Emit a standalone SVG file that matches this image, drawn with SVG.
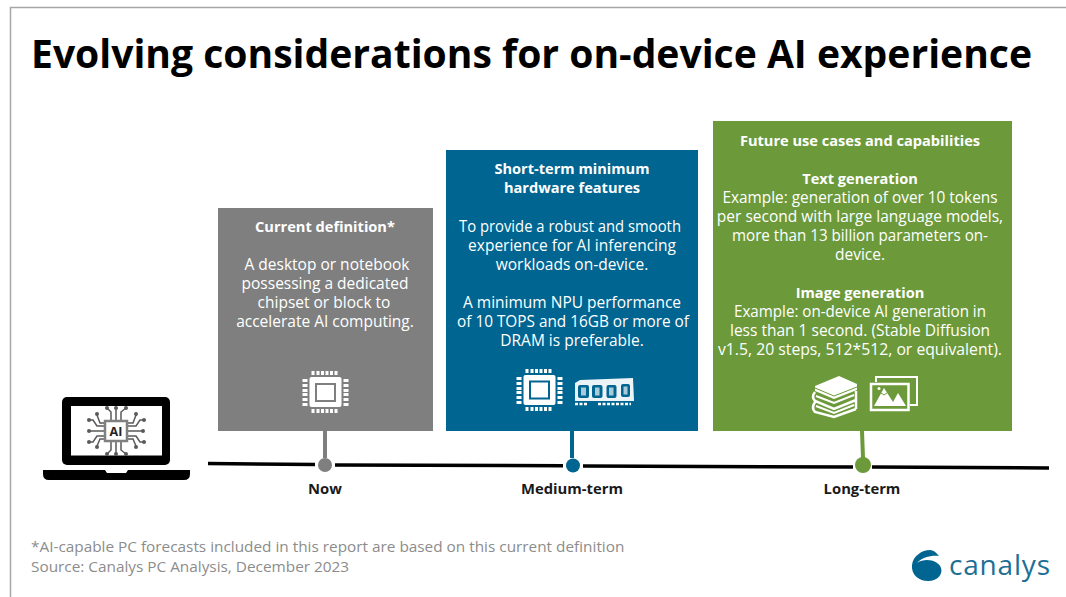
<svg xmlns="http://www.w3.org/2000/svg" width="1066" height="597" viewBox="0 0 1066 597">
<style>
text{font-family:"Open Sans","Noto Sans","Liberation Sans",sans-serif}
.w{fill:#fff;font-size:15.500px;text-anchor:middle}
.b{font-weight:700;font-size:14.600px}
.lab{fill:#1a1a1a;font-size:14.800px;font-weight:700;text-anchor:middle}
.foot{fill:#8c8c8c;font-size:15.350px}
.ico{fill:#fff}
.cir{stroke:#5a5a5a;stroke-width:1.500;fill:none}
.dot{fill:#5a5a5a}
</style>
<defs>
<g id="chip">
<rect x="-16" y="-15" width="32" height="30" rx="2" class="ico"/>
<g class="ico">
<path d="M-14-21h3v4h-3zM-9-21h3v4h-3zM-4.500-21h3v4h-3zM0-21h3v4h-3zM4.500-21h3v4h-3zM9-21h3v4h-3zM-14 17h3v4h-3zM-9 17h3v4h-3zM-4.500 17h3v4h-3zM0 17h3v4h-3zM4.500 17h3v4h-3zM9 17h3v4h-3z"/>
<path d="M-23-13h5v3h-5zM-23-8h5v3h-5zM-23-3h5v3h-5zM-23 1h5v3h-5zM-23 6h5v3h-5zM-23 11h5v3h-5zM18-13h5v3h-5zM18-8h5v3h-5zM18-3h5v3h-5zM18 1h5v3h-5zM18 6h5v3h-5zM18 11h5v3h-5z"/>
</g>
</g>
</defs>
<rect width="1066" height="597" fill="#fff"/>
<path d="M10.500 597V7.500H1066" fill="none" stroke="#a6a6a6" stroke-width="1.500"/>
<text x="31" y="68" font-size="39.500" font-weight="700" fill="#000" textLength="1001" lengthAdjust="spacingAndGlyphs">Evolving considerations for on-device AI experience</text>

<g id="connectors">
<path d="M208 463.500L315 464.500M335 465L563 465.800M583 466L853 467M872 467L1049 468" stroke="#000" stroke-width="3.500" fill="none"/>
<path d="M325 431V458" stroke="#7f7f7f" stroke-width="4"/>
<path d="M572 431V458" stroke="#006591" stroke-width="4"/>
<path d="M862 431L863 458" stroke="#6c9a3b" stroke-width="4"/>
</g>

<g id="laptop">
<rect x="62" y="397" width="108" height="68" rx="5" fill="#000"/>
<rect x="71" y="406" width="91" height="49.500" fill="#fff"/>
<path d="M43 470H105L107 473H126L128 470H190V474Q190 480 184 480H49Q43 480 43 474Z" fill="#000"/>
<g class="cir">
<path d="M105 431H90M105 426H97L93 420H90M105 436H97L93 442H90M128 431H142M128 426H136L140 420H143M128 436H136L140 442H143"/>
<path d="M105 423H100L97 415M128 423H133L136 415M105 439H100L97 446M128 439H133L136 446"/>
<path d="M111 421V412L107 408M116 421V408M121 421V412L126 408M111 442V450L107 454M116 442V454M121 442V450L126 454"/>
</g>
<g class="dot">
<circle cx="89" cy="431" r="2"/><circle cx="89" cy="420" r="2"/><circle cx="89" cy="442" r="2"/><circle cx="143" cy="431" r="2"/><circle cx="144" cy="420" r="2"/><circle cx="144" cy="442" r="2"/>
<circle cx="97" cy="414" r="2"/><circle cx="136" cy="414" r="2"/><circle cx="97" cy="447" r="2"/><circle cx="136" cy="447" r="2"/>
<circle cx="107" cy="408" r="2"/><circle cx="116" cy="408" r="2"/><circle cx="126" cy="408" r="2"/><circle cx="107" cy="454" r="2"/><circle cx="116" cy="454" r="2"/><circle cx="126" cy="454" r="2"/>
</g>
<rect x="105" y="421" width="22" height="20" fill="#fff" stroke="#808080" stroke-width="2.500"/>
<text x="116" y="436" font-size="12.500" font-weight="700" text-anchor="middle" fill="#222">AI</text>
</g>

<g id="node-now">
<rect x="218" y="208" width="215" height="223" fill="#7f7f7f"/>
<text class="w b" x="325" y="232">Current definition*</text>
<text class="w" x="327" y="270">A desktop or notebook</text>
<text class="w" x="325" y="289">possessing a dedicated</text>
<text class="w" x="324" y="308">chipset or block to</text>
<text class="w" x="325" y="327">accelerate AI computing.</text>
<use href="#chip" x="325.500" y="392"/>
<rect x="316" y="384" width="19" height="17" fill="none" stroke="#7f7f7f" stroke-width="2"/>
</g>
<g id="label-now">
<circle cx="325" cy="465" r="7" fill="#7f7f7f"/>
<text class="lab" x="325" y="494">Now</text>
</g>

<g id="node-medium">
<rect x="446" y="150" width="252" height="281" fill="#006591"/>
<text class="w b" x="572" y="174">Short-term minimum</text>
<text class="w b" x="572" y="193">hardware features</text>
<text class="w" x="570" y="232" textLength="222" lengthAdjust="spacingAndGlyphs">To provide a robust and smooth</text>
<text class="w" x="572" y="251">experience for AI inferencing</text>
<text class="w" x="572" y="270">workloads on-device.</text>
<text class="w" x="572" y="308">A minimum NPU performance</text>
<text class="w" x="573" y="327" textLength="232" lengthAdjust="spacingAndGlyphs">of 10 TOPS and 16GB or more of</text>
<text class="w" x="572" y="346">DRAM is preferable.</text>
<use href="#chip" x="539.500" y="390"/>
<rect x="530" y="381.500" width="19" height="17" fill="none" stroke="#006591" stroke-width="2"/>
<g id="ram">
<path d="M575 383L580 380L633 378L634 401H575Z" fill="#fff" fill-opacity=".92"/>
<g fill="#006591"><rect x="578" y="385" width="11" height="13" rx="2"/><rect x="592" y="385" width="10.500" height="13" rx="2"/><rect x="606.500" y="385" width="10" height="13" rx="2"/><rect x="621" y="384" width="9" height="13" rx="2"/></g>
<g fill="#a9cbd9"><rect x="581" y="387.500" width="5" height="8"/><rect x="595" y="387.500" width="4.500" height="8"/><rect x="609" y="387.500" width="4.500" height="8"/><rect x="623.500" y="386.500" width="4" height="8"/></g>
<path d="M575 404h12M598 404h33" stroke="#fff" stroke-width="2.500" stroke-dasharray="3 1.500" fill="none"/>
</g>
</g>
<g id="label-medium">
<circle cx="573" cy="465.500" r="7" fill="#006591"/>
<text class="lab" x="572" y="494">Medium-term</text>
</g>

<g id="node-long">
<rect x="713" y="121" width="299" height="310" fill="#6c9a3b"/>
<text class="w b" x="860" y="146">Future use cases and capabilities</text>
<text class="w b" x="860" y="184">Text generation</text>
<text class="w" x="860" y="203" textLength="275" lengthAdjust="spacingAndGlyphs">Example: generation of over 10 tokens</text>
<text class="w" x="860" y="222">per second with large language models,</text>
<text class="w" x="860" y="241" textLength="256" lengthAdjust="spacingAndGlyphs">more than 13 billion parameters on-</text>
<text class="w" x="860" y="260">device.</text>
<text class="w b" x="860" y="298">Image generation</text>
<text class="w" x="860" y="317" textLength="252" lengthAdjust="spacingAndGlyphs">Example: on-device AI generation in</text>
<text class="w" x="860" y="336" textLength="260" lengthAdjust="spacingAndGlyphs">less than 1 second. (Stable Diffusion</text>
<text class="w" x="860" y="355" textLength="284" lengthAdjust="spacingAndGlyphs">v1.5, 20 steps, 512*512, or equivalent).</text>
<g id="books">
<path d="M815 386L839 376L857 384V390L834 399L815 391Z" fill="#fff"/>
<path d="M815 392Q811 397 815 401L834 409L856 400M856 391V400M815 402Q811 408 815 412L834 417L856 409M856 400V409" fill="none" stroke="#fff" stroke-width="2.500"/>
<path d="M816 396L834 403L854 395M816 406L834 413L854 405" fill="none" stroke="#fff" stroke-width="2"/>
<path d="M815 388L834 396L857 387" fill="none" stroke="#6c9a3b" stroke-width="1"/>
</g>
<g id="pictures">
<path d="M876 382V377H917V405H910" fill="none" stroke="#fff" stroke-width="2"/>
<rect x="871" y="384" width="37.500" height="26" fill="none" stroke="#fff" stroke-width="2.500"/>
<path d="M874 406L884 388L893 402L898 393L906 406Z" fill="#fff"/>
<path d="M881 393L884 395L887 393" fill="none" stroke="#6c9a3b" stroke-width="1"/>
<circle cx="879" cy="388.500" r="1.500" fill="#fff"/>
</g>
</g>
<g id="label-long">
<circle cx="863" cy="465" r="8" fill="#6c9a3b"/>
<text class="lab" x="862" y="494">Long-term</text>
</g>

<g id="footer">
<text class="foot" x="31" y="552">*AI-capable PC forecasts included in this report are based on this current definition</text>
<text class="foot" x="31" y="572">Source: Canalys PC Analysis, December 2023</text>
</g>
<g id="logo">
<path d="M930 550C922 550 913 556 912 565C911 575 919 581 928 581C938 581 943 574 941 568C939 561 926 557 917 563C922 557 932 555 939 556C936 552 933 550 930 550Z" fill="#006591"/>
<text x="949" y="575" font-size="28" font-weight="500" fill="#1d6f94" font-family="Noto Sans" textLength="101">canalys</text>
</g>
</svg>
